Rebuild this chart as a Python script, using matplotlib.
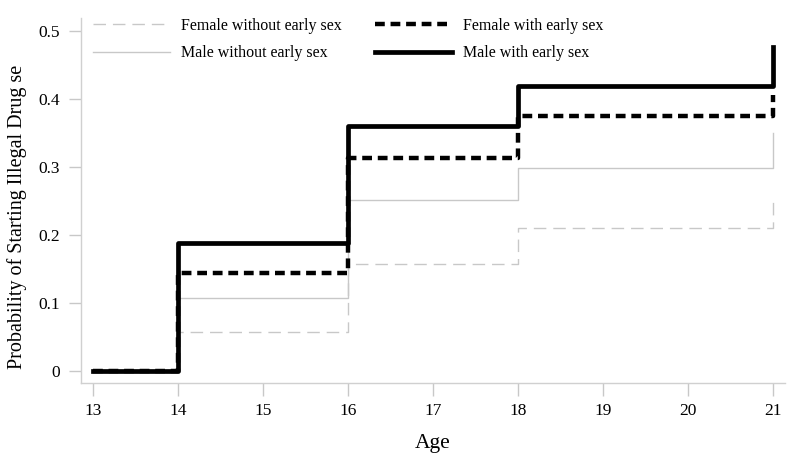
import matplotlib
matplotlib.use("Agg")
import matplotlib.pyplot as plt

plt.rcParams['font.family'] = ['Liberation Serif', 'DejaVu Serif']

# ages where the step changes (last point is the final jump at 21)
ages = [13, 14, 16, 18, 21]

female_no = [0, 0.057, 0.157, 0.210, 0.250]
male_no = [0, 0.107, 0.251, 0.298, 0.350]
female_yes = [0, 0.144, 0.313, 0.375, 0.405]
male_yes = [0, 0.188, 0.360, 0.419, 0.476]

fig = plt.figure(figsize=(8, 4.61), dpi=100)
ax = fig.add_axes([0.101, 0.169, 0.880, 0.792])

gray = '#c8c8c8'
ax.step(ages, female_no, where='post', color=gray, lw=1.0, ls=(0, (9, 5)),
        label='Female without early sex')
ax.step(ages, male_no, where='post', color=gray, lw=1.0, ls='-',
        label='Male without early sex')
ax.step(ages, female_yes, where='post', color='black', lw=3.2, ls=(0, (2.2, 1.3)),
        label='Female with early sex')
ax.step(ages, male_yes, where='post', color='black', lw=3.4, ls='-',
        label='Male with early sex')

ax.set_xlim(12.86, 21.14)
ax.set_ylim(-0.018, 0.519)
ax.set_xticks(range(13, 22))
ax.set_yticks([0, 0.1, 0.2, 0.3, 0.4, 0.5])
ax.set_yticklabels(['0', '0.1', '0.2', '0.3', '0.4', '0.5'])

for s in ['top', 'right']:
    ax.spines[s].set_visible(False)
for s in ['left', 'bottom']:
    ax.spines[s].set_color('#d0d0d0')
    ax.spines[s].set_linewidth(1.0)
ax.tick_params(axis='both', colors='#c8c8c8', labelcolor='black', labelsize=12.5,
               length=9, width=1)
ax.tick_params(axis='x', pad=5)
ax.tick_params(axis='y', pad=6)

ax.set_xlabel('Age', fontsize=15.5, labelpad=11)
ax.set_ylabel('Probability of Starting Illegal Drug se', fontsize=14.5)
ax.yaxis.set_label_coords(-0.077, 0.455)

ax.legend(loc='upper left', bbox_to_anchor=(-0.003, 1.04), ncol=2, frameon=False,
          fontsize=11.5, handlelength=4.8, columnspacing=2.1, handletextpad=0.7,
          labelspacing=0.72)

fig.savefig('out.png', dpi=100)
